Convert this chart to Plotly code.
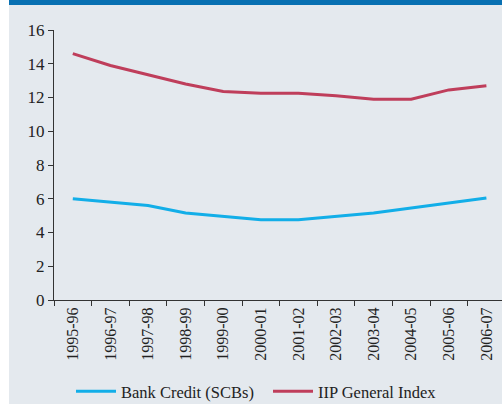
import plotly.graph_objects as go

years = ["1995-96", "1996-97", "1997-98", "1998-99", "1999-00", "2000-01",
         "2001-02", "2002-03", "2003-04", "2004-05", "2005-06", "2006-07"]
bank_credit = [6.0, 5.8, 5.6, 5.15, 4.95, 4.75, 4.75, 4.95, 5.15, 5.45, 5.75, 6.05]
iip_general = [14.6, 13.9, 13.35, 12.8, 12.35, 12.25, 12.25, 12.1, 11.9, 11.9, 12.45, 12.7]
y_ticks = [0, 2, 4, 6, 8, 10, 12, 14, 16]

W, H = 502, 404
ML, MT, MB = 54, 30, 104
plot_w = W - ML
plot_h = H - MT - MB

fig = go.Figure()
fig.add_trace(go.Scatter(x=years, y=bank_credit, mode="lines", name="Bank Credit (SCBs)",
                         line=dict(color="#12aee8", width=3)))
fig.add_trace(go.Scatter(x=years, y=iip_general, mode="lines", name="IIP General Index",
                         line=dict(color="#bf3e5b", width=3)))

step = 37.6
n_vis = plot_w / step

def px_x(p):
    return (p - ML) / plot_w

def px_y(p):
    return (MT + plot_h - p) / plot_h

shapes = [
    # white strip along the left edge
    dict(type="rect", xref="paper", yref="paper", x0=px_x(-2), x1=px_x(9),
         y0=px_y(H + 2), y1=px_y(-2), fillcolor="white", line_width=0, layer="below"),
    # blue band along the top
    dict(type="rect", xref="paper", yref="paper", x0=px_x(9), x1=px_x(W + 2),
         y0=px_y(5), y1=px_y(-2), fillcolor="#0870b2", line_width=0, layer="below"),
]

fig.update_layout(
    width=W, height=H,
    margin=dict(l=ML, r=0, t=MT, b=MB, autoexpand=False),
    paper_bgcolor="#e4e9ee",
    plot_bgcolor="#e4e9ee",
    font=dict(family="Liberation Serif", size=16, color="#222"),
    shapes=shapes,
    showlegend=True,
    legend=dict(orientation="h", xref="container", yref="container",
                x=71 / W, xanchor="left", y=1 - 374 / H, yanchor="top",
                font=dict(size=16.5), itemwidth=40, entrywidth=142,
                entrywidthmode="pixels", bgcolor="rgba(0,0,0,0)",
                tracegroupgap=0),
    xaxis=dict(type="category", range=[-0.5, n_vis - 0.5], tickson="boundaries",
               ticks="outside", ticklen=5, tickcolor="#333", showline=True,
               linecolor="#333", linewidth=1, showgrid=False, tickangle=-90,
               zeroline=False, automargin=False),
    yaxis=dict(range=[0, 16], tickvals=y_ticks, ticks="outside", ticklen=5,
               tickcolor="#333", showline=True, linecolor="#333", linewidth=1,
               showgrid=False, zeroline=False, automargin=False,
               tickfont=dict(size=17)),
)

fig.write_html("out.html")
